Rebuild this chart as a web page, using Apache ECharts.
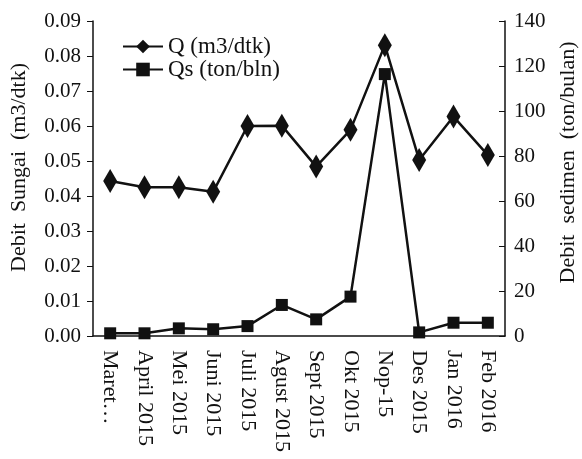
<!DOCTYPE html>
<html>
<head>
<meta charset="utf-8">
<script src="https://cdn.jsdelivr.net/npm/echarts@6/dist/echarts.min.js"></script>
<style>
  html, body { margin: 0; padding: 0; background: #fff; }
  #chart { width: 582px; height: 459px; }
</style>
</head>
<body>
<div id="chart"></div>
<script>
// data
var months = ["Maret…", "April 2015", "Mei 2015", "Juni 2015", "Juli 2015", "Agust 2015",
  "Sept 2015", "Okt 2015", "Nop-15", "Des 2015", "Jan 2016", "Feb 2016"];
var debitQ = [0.0443, 0.0425, 0.0425, 0.0412, 0.0600, 0.0601, 0.0484, 0.0589, 0.0831, 0.0503, 0.0627, 0.0517];
var debitQs = [1.2, 1.2, 3.4, 3.0, 4.4, 13.8, 7.4, 17.5, 116.4, 1.6, 5.9, 5.9];

var FONT = "Liberation Serif";
var INK = "#111";

var chart = echarts.init(document.getElementById("chart"));
chart.setOption({
  animation: false,
  textStyle: { fontFamily: FONT, color: INK },
  grid: { left: 93, right: 77, top: 21, bottom: 123, outerBoundsMode: "none", containLabel: false },
  legend: {
    orient: "vertical",
    left: 117,
    top: 30,
    itemGap: 0,
    itemWidth: 40,
    itemHeight: 17,
    textStyle: { fontFamily: FONT, fontSize: 23, color: INK },
    data: ["Q (m3/dtk)", "Qs (ton/bln)"]
  },
  xAxis: {
    type: "category",
    data: months,
    axisLine: { lineStyle: { color: INK, width: 1.5 } },
    axisTick: { length: 6, lineStyle: { color: INK } },
    axisLabel: { rotate: -90, fontSize: 22, color: INK, fontFamily: FONT, margin: 14 }
  },
  yAxis: [
    {
      type: "value",
      min: 0, max: 0.09, interval: 0.01,
      name: "Debit  Sungai  (m3/dtk)",
      nameLocation: "middle",
      nameRotate: 90,
      nameGap: 63,
      nameTextStyle: { fontFamily: FONT, fontSize: 22, color: INK, padding: [0, 0, 0, 22] },
      splitLine: { show: false },
      axisLine: { show: true, lineStyle: { color: INK, width: 1.5 } },
      axisTick: { show: true, length: 6, lineStyle: { color: INK } },
      axisLabel: { fontSize: 21, color: INK, fontFamily: FONT, margin: 12,
        formatter: function (v) { return v.toFixed(2); } }
    },
    {
      type: "value",
      min: 0, max: 140, interval: 20,
      name: "Debit  sedimen  (ton/bulan)",
      nameLocation: "middle",
      nameRotate: 90,
      nameGap: 52,
      nameTextStyle: { fontFamily: FONT, fontSize: 22, color: INK, padding: [0, 0, 0, 32] },
      splitLine: { show: false },
      axisLine: { show: true, lineStyle: { color: INK, width: 1.5 } },
      axisTick: { show: true, inside: true, length: 6, lineStyle: { color: INK } },
      axisLabel: { fontSize: 21, color: INK, fontFamily: FONT, margin: 9 }
    }
  ],
  series: [
    {
      name: "Q (m3/dtk)",
      type: "line",
      yAxisIndex: 0,
      data: debitQ,
      symbol: "diamond",
      symbolSize: [14, 24],
      itemStyle: { color: INK },
      lineStyle: { color: INK, width: 2.5 }
    },
    {
      name: "Qs (ton/bln)",
      type: "line",
      yAxisIndex: 1,
      data: debitQs,
      symbol: "rect",
      symbolSize: 12,
      itemStyle: { color: INK },
      lineStyle: { color: INK, width: 2.5 }
    }
  ]
});
</script>
</body>
</html>
